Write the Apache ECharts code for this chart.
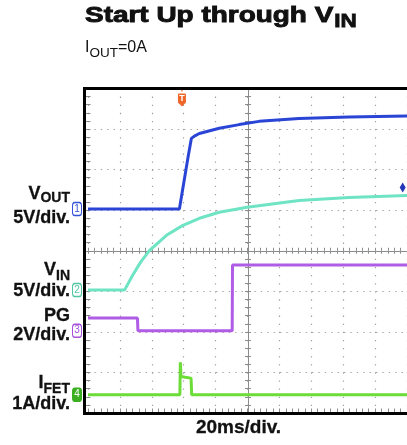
<!DOCTYPE html>
<html><head><meta charset="utf-8">
<script src="https://cdn.jsdelivr.net/npm/echarts@6/dist/echarts.min.js"></script>
<style>html,body{margin:0;padding:0;background:#fff}#c{width:407px;height:445px}</style>
</head><body><div id="c"></div>
<script>
// time in ms (20 ms/div), amplitude in screen divisions (0 = bottom edge, 8 = top edge)
const vout = [[0,5.03],[57.3,5.03],[62.9,6.35],[64.8,6.77],[67.3,6.84],[69.8,6.89],[82.3,7.02],[94.8,7.11],[107.3,7.19],[132.3,7.26],[163.5,7.30],[200,7.32]];
const vin  = [[0,3.03],[22.9,3.03],[27.9,3.39],[33.0,3.72],[38.6,4.01],[49.2,4.38],[59.2,4.62],[69.8,4.80],[82.3,4.95],[99.8,5.07],[132.3,5.24],[163.5,5.31],[200,5.36]];
const pg   = [[0,2.34],[31.0,2.34],[31.3,2.03],[90.4,2.03],[90.6,3.65],[200,3.65]];
const ifet = [[0,0.45],[57.6,0.45],[57.9,1.25],[58.3,0.90],[61.0,0.88],[64.6,0.86],[65.0,0.45],[200,0.45]];
const channelNames  = ['1','2','3','4'];
const channelLevels = [5.03, 3.03, 2.03, 0.45];
const triggerTime = 58.9;
const triggerLevel = 5.56;
const titleMain = 'Start Up through V';
const titleSub = 'IN';
const xLabel = '20ms/div.';
const chLabels = [
  {main:'V', sub:'OUT', scale:'5V/div.'},
  {main:'V', sub:'IN',  scale:'5V/div.'},
  {main:'PG', sub:'',   scale:'2V/div.'},
  {main:'I', sub:'FET', scale:'1A/div.'}
];

const FF = '"Liberation Sans", Arial, Helvetica, sans-serif';
const colors = ['#2a45d6','#6ee4c4','#b05ce6','#6cdc36'];
const markColors = ['#3553d8','#4fc6a2','#a650dc','#3cae22'];
const cv = document.createElement('canvas').getContext('2d');
function tw(t, font){ cv.font = font; return cv.measureText(t).width; }

const chart = echarts.init(document.getElementById('c'), null, {renderer:'canvas'});
const GL = 88, GT = 88.5, GW = 320, GH = 324.5;

function chMarks(i){
  const filled = i === 3;
  return {
    coord:[0, channelLevels[i]], symbol:'roundRect', symbolSize:[9,13], symbolOffset:[-11,0],
    itemStyle:{color: filled ? markColors[i] : '#fff', borderColor: markColors[i], borderWidth:1.2},
    label:{show:true, position:'inside', formatter: channelNames[i], color: filled ? '#fff' : markColors[i], fontSize:10, fontFamily:FF}
  };
}
function mkSeries(data, i, extra){
  const mp = [chMarks(i)].concat(extra || []);
  return {
    type:'line', data:data, xAxisIndex:0, yAxisIndex:0, showSymbol:false, clip:false, animation:false,
    lineStyle:{color:colors[i], width:3}, z:5,
    markPoint:{silent:true, animation:false, data: mp}
  };
}

const labelsGraphic = [];
const ink = '#111';
// title
const tf = 'bold 22px ' + FF;
const tScale = 1.27;
labelsGraphic.push({type:'text', x:85, y:15.5, scaleX:tScale, scaleY:1.03, style:{text:titleMain, font:tf, fill:ink, stroke:ink, lineWidth:0.9, align:'left', verticalAlign:'middle'}});
labelsGraphic.push({type:'text', x:86 + tw(titleMain, tf)*tScale, y:21.8, scaleX:1.25, style:{text:titleSub, font:'bold 18px '+FF, fill:ink, stroke:ink, lineWidth:0.8, align:'left', verticalAlign:'middle'}});
// subtitle
const sf = '16px ' + FF, ssf = '13.5px ' + FF;
let sx = 85;
labelsGraphic.push({type:'text', x:sx, y:48, style:{text:'I', font:sf, fill:ink, align:'left', verticalAlign:'middle'}});
sx += tw('I', sf);
labelsGraphic.push({type:'text', x:sx, y:53.5, style:{text:'OUT', font:ssf, fill:ink, align:'left', verticalAlign:'middle'}});
sx += tw('OUT', ssf);
labelsGraphic.push({type:'text', x:sx, y:48, style:{text:'=0A', font:sf, fill:ink, align:'left', verticalAlign:'middle'}});

// channel labels
const mainF = 'bold 18px ' + FF, subF = 'bold 14px ' + FF, scF = 'bold 18px ' + FF;
const labY = [[194,198.5,218],[270,276,291.5],[316.5,0,335],[383.5,389,404]];
const RX = 70;
chLabels.forEach((c, i) => {
  const y = labY[i];
  let rx = RX;
  if (c.sub) {
    labelsGraphic.push({type:'text', x:rx, y:y[1], style:{text:c.sub, font:subF, fill:ink, stroke:ink, lineWidth:0.3, align:'right', verticalAlign:'middle'}});
    rx -= tw(c.sub, subF);
  }
  labelsGraphic.push({type:'text', x:rx, y:y[0], style:{text:c.main, font:mainF, fill:ink, stroke:ink, lineWidth:0.3, align:'right', verticalAlign:'middle'}});
  labelsGraphic.push({type:'text', x:RX, y:y[2], style:{text:c.scale, font:scF, fill:ink, stroke:ink, lineWidth:0.3, align:'right', verticalAlign:'middle'}});
});
labelsGraphic.push({type:'text', x:238.5, y:428, style:{text:xLabel, font:'bold 19px '+FF, fill:ink, stroke:ink, lineWidth:0.3, align:'center', verticalAlign:'middle'}});
// frame
labelsGraphic.push({type:'line', z:50, shape:{x1:84.5, y1:87, x2:84.5, y2:414.5}, style:{stroke:'#000', lineWidth:3}});
labelsGraphic.push({type:'line', z:50, shape:{x1:83, y1:88.5, x2:407, y2:88.5}, style:{stroke:'#000', lineWidth:3}});
labelsGraphic.push({type:'line', z:50, shape:{x1:83, y1:413.5, x2:407, y2:413.5}, style:{stroke:'#000', lineWidth:3}});

const gridGray = '#a0a0a0';
const axGray = '#8c8c8c';
const hidden = {axisLabel:{show:false}, splitLine:{show:false}};
const option = {
  animation:false,
  backgroundColor:'#fff',
  grid:{left:GL, top:GT, width:GW, height:GH, containLabel:false},
  xAxis:[
    {type:'value', min:0, max:200, interval:20, axisLine:{show:false}, axisTick:{show:false}, axisLabel:{show:false},
     splitLine:{show:true, lineStyle:{color:gridGray, width:1.2, type:[1.3,6.81]}}},
    Object.assign({type:'value', min:0, max:200, interval:4, position:'bottom', offset:-GH/2,
     axisLine:{show:true, onZero:false, lineStyle:{color:axGray, width:1}}, axisTick:{show:true, inside:true, length:3, lineStyle:{color:axGray}}}, hidden),
    Object.assign({type:'value', min:0, max:200, interval:4, position:'bottom', offset:-GH/2,
     axisLine:{show:false, onZero:false}, axisTick:{show:true, inside:false, length:3, lineStyle:{color:axGray}}}, hidden),
    Object.assign({type:'value', min:0, max:200, interval:4, position:'bottom', offset:0,
     axisLine:{show:false, onZero:false}, axisTick:{show:true, inside:true, length:4.5, lineStyle:{color:axGray}}}, hidden)
  ],
  yAxis:[
    {type:'value', min:0, max:8, interval:1, axisLine:{show:false}, axisTick:{show:false}, axisLabel:{show:false},
     splitLine:{show:true, lineStyle:{color:gridGray, width:1.2, type:[1.3,5.1]}}},
    Object.assign({type:'value', min:0, max:8, interval:0.2, position:'left', offset:-GW/2,
     axisLine:{show:true, onZero:false, lineStyle:{color:axGray, width:1}}, axisTick:{show:true, inside:true, length:3, lineStyle:{color:axGray}}}, hidden),
    Object.assign({type:'value', min:0, max:8, interval:0.2, position:'left', offset:-GW/2,
     axisLine:{show:false, onZero:false}, axisTick:{show:true, inside:false, length:3, lineStyle:{color:axGray}}}, hidden),
    Object.assign({type:'value', min:0, max:8, interval:0.2, position:'left', offset:3.5,
     axisLine:{show:false, onZero:false}, axisTick:{show:true, inside:true, length:6, lineStyle:{color:axGray}}}, hidden)
  ],
  series:[
    mkSeries(vout, 0, [
      {coord:[triggerTime, 7.78], symbol:'path://M3.4,0 L4.6,0 L4.6,3 L3.4,3 Z M1,5 L7,5 Q8,5 8,6 L8,14 L4,18 L0,14 L0,6 Q0,5 1,5 Z', symbolSize:[8,18],
       itemStyle:{color:'#f0672a'}, label:{show:true, position:'inside', formatter:'T', color:'#fff', fontSize:9, fontWeight:'bold', fontFamily:FF, offset:[0,1]}},
      {coord:[197.3, triggerLevel], symbol:'diamond', symbolSize:[6,10], itemStyle:{color:'#2436b8'}, label:{show:false}}
    ]),
    mkSeries(vin, 1),
    mkSeries(pg, 2),
    mkSeries(ifet, 3)
  ],
  graphic: labelsGraphic
};
chart.setOption(option);
</script>
</body></html>
